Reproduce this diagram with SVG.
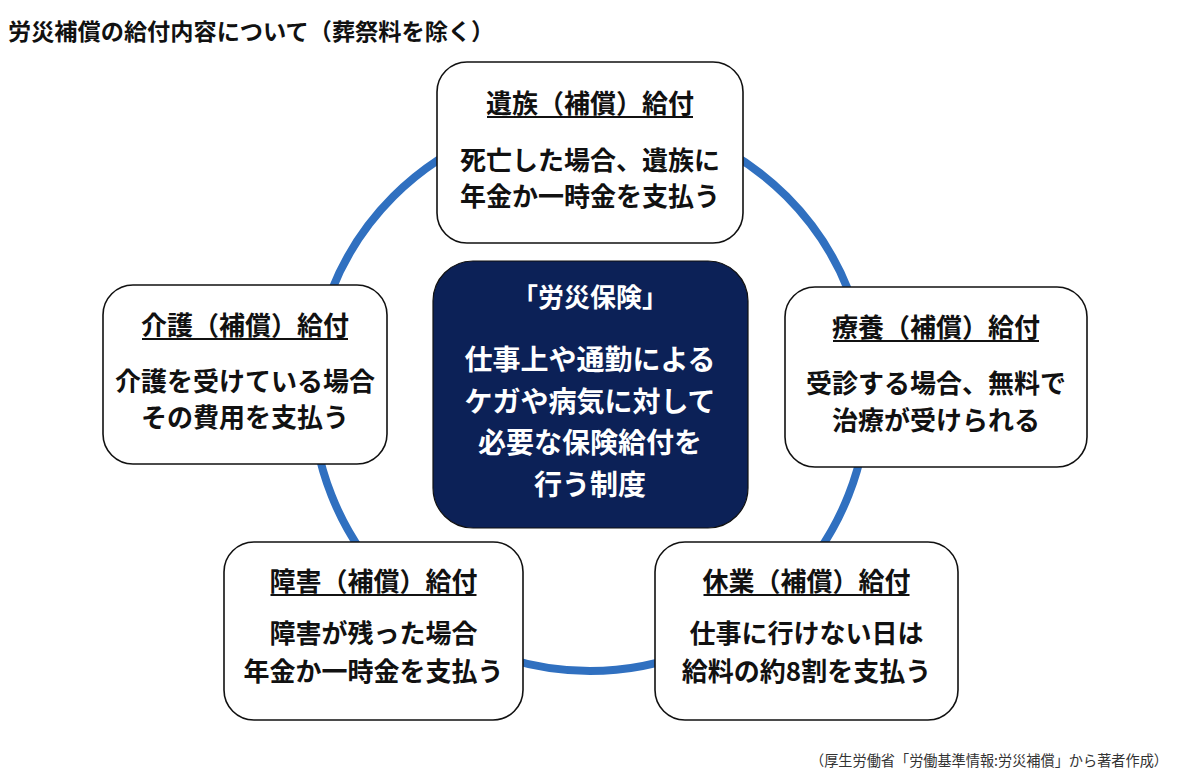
<svg xmlns="http://www.w3.org/2000/svg" width="1200" height="782" viewBox="0 0 1200 782">
<style>
text{font-family:"Noto Sans CJK JP","Noto Sans CJK SC",sans-serif;}
.box{fill:#ffffff;stroke:#111111;stroke-width:1.6;}
.core{fill:#0c2157;stroke:#111111;stroke-width:1.2;}
.t{font-size:26px;font-weight:700;fill:#111111;text-anchor:middle;}
.w{font-size:28px;font-weight:700;fill:#ffffff;text-anchor:middle;}
.ul{stroke:#111111;stroke-width:2;}
.ring{fill:none;stroke:#3070c0;stroke-width:8;}
</style>
<rect width="1200" height="782" fill="#ffffff"/>
<text x="8" y="40" style="font-size:23.2px;font-weight:700;fill:#111111;">労災補償の給付内容について（葬祭料を除く）</text>
<g id="connectors">
<circle class="ring" cx="590" cy="393" r="278"/>
</g>
<g id="node-center">
<rect class="core" x="433" y="261" width="315" height="267" rx="40"/>
<text class="w" x="590" y="307" style="font-size:26px">「労災保険」</text>
<text class="w" x="590" y="370">仕事上や通勤による</text>
<text class="w" x="590" y="412">ケガや病気に対して</text>
<text class="w" x="590" y="453">必要な保険給付を</text>
<text class="w" x="590" y="495">行う制度</text>
</g>
<g id="node-izoku">
<rect class="box" x="437" y="62" width="306" height="181" rx="30"/>
<text class="t" x="590" y="113">遺族（補償）給付</text>
<line class="ul" x1="487" y1="117" x2="693" y2="117"/>
<text class="t" x="590" y="170">死亡した場合、遺族に</text>
<text class="t" x="590" y="206">年金か一時金を支払う</text>
</g>
<g id="node-kaigo">
<rect class="box" x="103" y="285" width="284" height="179" rx="30"/>
<text class="t" x="245" y="335">介護（補償）給付</text>
<line class="ul" x1="142" y1="339" x2="348" y2="339"/>
<text class="t" x="245" y="391">介護を受けている場合</text>
<text class="t" x="245" y="427">その費用を支払う</text>
</g>
<g id="node-ryoyo">
<rect class="box" x="785" y="287" width="302" height="180" rx="30"/>
<text class="t" x="936" y="337">療養（補償）給付</text>
<line class="ul" x1="833" y1="341" x2="1039" y2="341"/>
<text class="t" x="936" y="393">受診する場合、無料で</text>
<text class="t" x="936" y="430">治療が受けられる</text>
</g>
<g id="node-shogai">
<rect class="box" x="224" y="542" width="299" height="178" rx="30"/>
<text class="t" x="373.5" y="591">障害（補償）給付</text>
<line class="ul" x1="270.5" y1="595" x2="476.5" y2="595"/>
<text class="t" x="373.5" y="643">障害が残った場合</text>
<text class="t" x="373.5" y="681">年金か一時金を支払う</text>
</g>
<g id="node-kyugyo">
<rect class="box" x="655" y="542" width="303" height="178" rx="30"/>
<text class="t" x="806.5" y="591">休業（補償）給付</text>
<line class="ul" x1="703.5" y1="595" x2="909.5" y2="595"/>
<text class="t" x="806.5" y="643">仕事に行けない日は</text>
<text class="t" x="806.5" y="681">給料の約8割を支払う</text>
</g>
<text x="810" y="766" textLength="358" lengthAdjust="spacingAndGlyphs" style="font-size:14.5px;fill:#333333;">（厚生労働省「労働基準情報:労災補償」から著者作成）</text>
</svg>
